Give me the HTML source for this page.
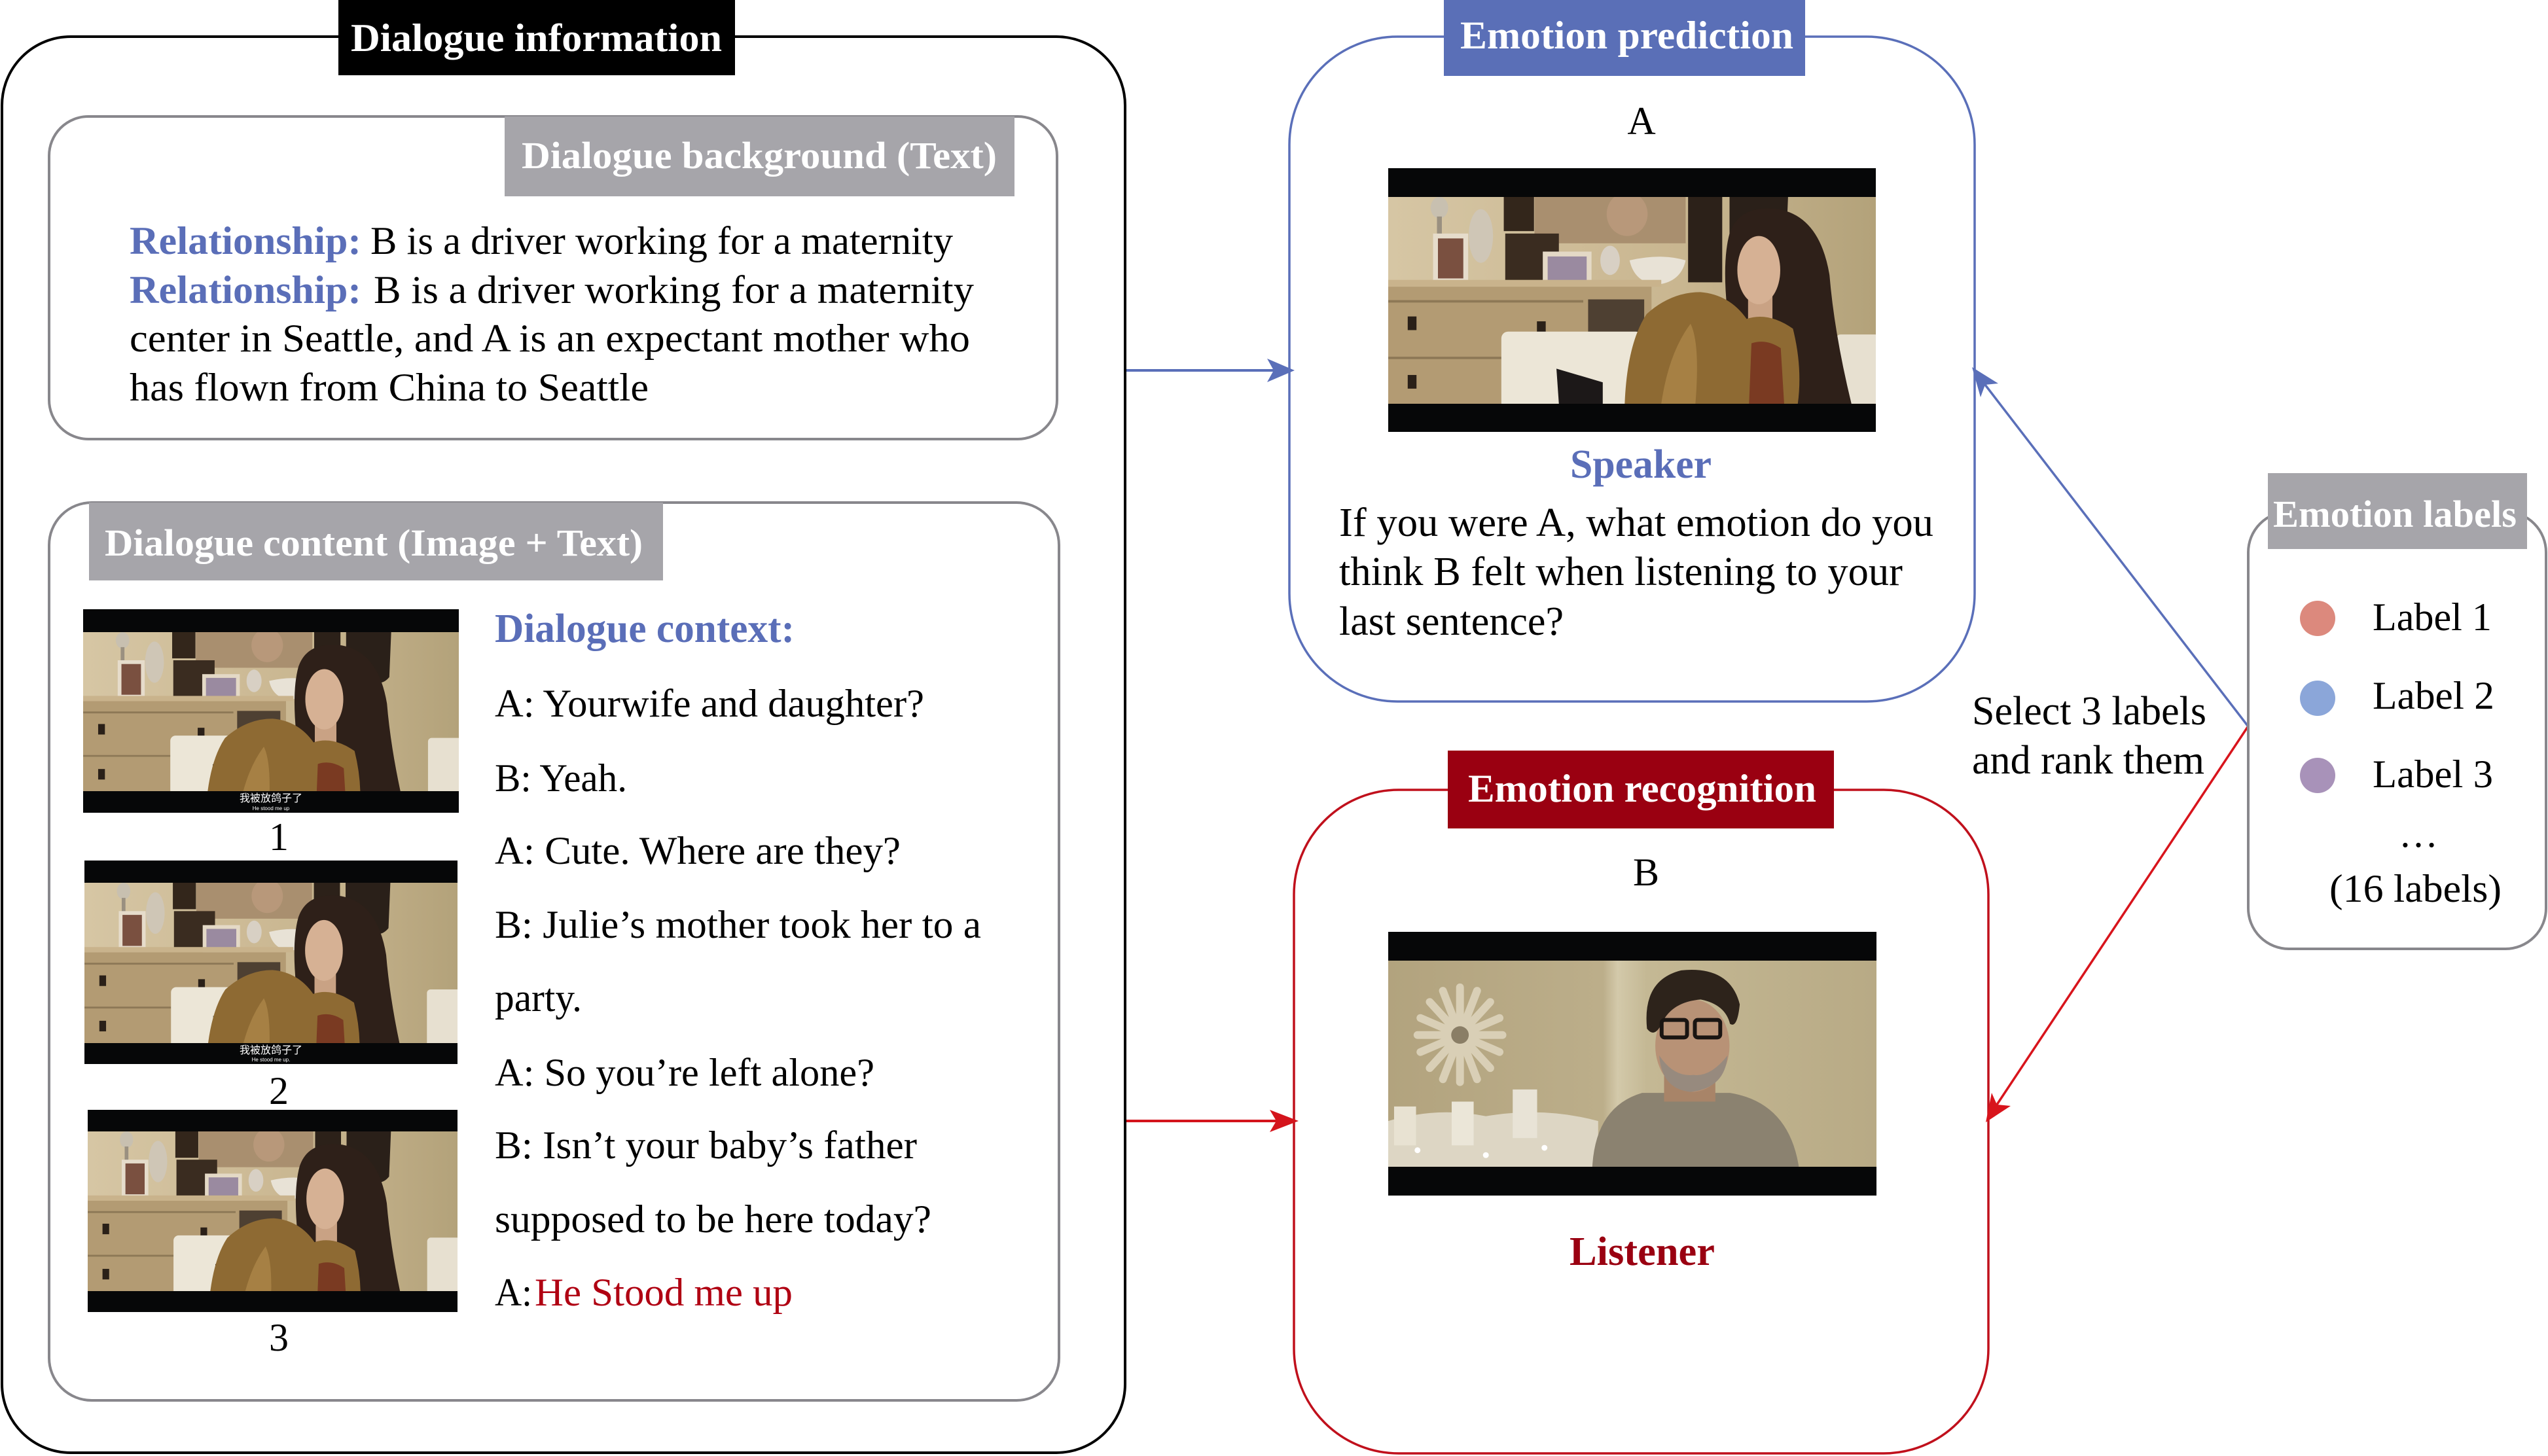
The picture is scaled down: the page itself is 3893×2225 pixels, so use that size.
<!DOCTYPE html>
<html><head><meta charset="utf-8">
<style>
html,body{margin:0;padding:0;background:#fff;}
svg{display:block;}
text{font-family:"Liberation Serif","Noto Serif CJK SC",serif;}
.cjk{font-family:"Liberation Sans","Noto Sans CJK SC",sans-serif;}
</style></head><body>
<svg width="3893" height="2225" viewBox="0 0 3893 2225" xmlns="http://www.w3.org/2000/svg" xmlns:xlink="http://www.w3.org/1999/xlink">
<defs>
 <linearGradient id="wallW" x1="0" y1="0" x2="1" y2="0">
  <stop offset="0" stop-color="#d6c6a4"/><stop offset="0.6" stop-color="#c9b690"/><stop offset="1" stop-color="#b3a27a"/>
 </linearGradient>
 <linearGradient id="wallM" x1="0" y1="0" x2="1" y2="0">
  <stop offset="0" stop-color="#b2a37e"/><stop offset="0.44" stop-color="#bcae8a"/><stop offset="0.47" stop-color="#d3c9aa"/><stop offset="0.53" stop-color="#c4b894"/><stop offset="1" stop-color="#b8aa85"/>
 </linearGradient>
 <g id="room">
  <rect x="0" y="0" width="1000" height="424" fill="url(#wallW)"/>
  <rect x="300" y="0" width="310" height="95" fill="#a98f6f"/>
  <ellipse cx="490" cy="35" rx="42" ry="45" fill="#b8987a"/>
  <rect x="237" y="0" width="62" height="70" fill="#33261b"/>
  <rect x="615" y="0" width="70" height="175" fill="#2c2119"/>
  <path d="M700 0 L820 0 L815 120 Q790 150 760 120 L700 80Z" fill="#2a2019"/>
  <ellipse cx="105" cy="22" rx="18" ry="22" fill="#c8c0b0"/>
  <rect x="100" y="40" width="10" height="45" fill="#9a9080"/>
  <ellipse cx="190" cy="80" rx="25" ry="55" fill="#cfc6b6"/>
  <rect x="92" y="75" width="72" height="105" fill="#e6dccb"/>
  <rect x="102" y="85" width="52" height="82" fill="#7a5040"/>
  <rect x="240" y="75" width="110" height="100" fill="#3a2c20"/>
  <rect x="317" y="112" width="100" height="72" fill="#e4d9c6"/>
  <rect x="327" y="122" width="80" height="52" fill="#9a8aa0"/>
  <ellipse cx="455" cy="130" rx="20" ry="30" fill="#d8d0c4"/>
  <path d="M495 130 Q560 115 610 130 Q600 175 550 180 Q505 175 495 130Z" fill="#e8e2d6"/>
  <rect x="0" y="170" width="560" height="14" fill="#c9b38c"/>
  <rect x="0" y="184" width="540" height="240" fill="#b39b73"/>
  <rect x="410" y="210" width="115" height="70" fill="#4e4032"/>
  <line x1="0" y1="214" x2="400" y2="214" stroke="#8d7856" stroke-width="5"/>
  <line x1="0" y1="330" x2="240" y2="330" stroke="#8d7856" stroke-width="5"/>
  <rect x="40" y="245" width="18" height="28" fill="#2a2018"/>
  <rect x="305" y="255" width="18" height="24" fill="#2a2018"/>
  <rect x="40" y="365" width="18" height="28" fill="#2a2018"/>
  <rect x="232" y="276" width="290" height="160" rx="14" fill="#ece6d7"/>
  <rect x="918" y="282" width="90" height="150" rx="10" fill="#e7e0d0"/>
  <path d="M345 352 L440 380 L440 424 L350 424Z" fill="#1c1818"/>
 </g>
 <g id="woman">
  <path d="M700 75 Q720 15 800 25 Q885 40 905 160 Q915 280 950 424 L690 424 Q700 330 695 230 Q685 130 700 75Z" fill="#2e2019"/>
  <rect x="738" y="190" width="50" height="70" fill="#c9a284"/>
  <ellipse cx="760" cy="150" rx="44" ry="70" fill="#d6b194"/>
  <path d="M485 424 Q490 300 530 240 Q580 195 640 195 Q700 200 735 250 Q780 235 830 270 Q850 350 840 424Z" fill="#8e6a33"/>
  <path d="M560 424 Q575 320 620 260 Q640 300 630 424Z" fill="#b08a4c" opacity="0.7"/>
  <path d="M745 300 Q775 290 805 310 L812 424 L740 424Z" fill="#7a3a22"/>
 </g>
 <g id="manScene">
  <rect x="0" y="0" width="1000" height="424" fill="url(#wallM)"/>
  <g stroke="#d9cfb6" stroke-width="16" stroke-linecap="round">
   <line x1="147" y1="153" x2="147" y2="55"/><line x1="147" y1="153" x2="147" y2="250"/>
   <line x1="147" y1="153" x2="60" y2="153"/><line x1="147" y1="153" x2="234" y2="153"/>
   <line x1="147" y1="153" x2="85" y2="85"/><line x1="147" y1="153" x2="209" y2="221"/>
   <line x1="147" y1="153" x2="209" y2="85"/><line x1="147" y1="153" x2="85" y2="221"/>
   <line x1="147" y1="153" x2="112" y2="62"/><line x1="147" y1="153" x2="182" y2="244"/>
   <line x1="147" y1="153" x2="182" y2="62"/><line x1="147" y1="153" x2="112" y2="244"/>
   <line x1="147" y1="153" x2="66" y2="118"/><line x1="147" y1="153" x2="228" y2="188"/>
   <line x1="147" y1="153" x2="228" y2="118"/><line x1="147" y1="153" x2="66" y2="188"/>
  </g>
  <circle cx="147" cy="153" r="18" fill="#8a7e66"/>
  <path d="M0 330 Q100 300 200 320 Q320 300 430 330 L430 424 L0 424Z" fill="#ddd6c4"/>
  <rect x="12" y="300" width="45" height="80" fill="#e8e2d2"/>
  <rect x="130" y="290" width="45" height="90" fill="#ebe6d8"/>
  <rect x="255" y="265" width="50" height="100" fill="#e8e3d6"/>
  <circle cx="60" cy="390" r="6" fill="#fff"/><circle cx="200" cy="400" r="6" fill="#fff"/><circle cx="320" cy="385" r="6" fill="#fff"/>
  <path d="M418 424 Q425 300 520 272 L700 272 Q820 292 841 424Z" fill="#8b8270"/>
  <rect x="565" y="220" width="105" height="70" fill="#a88468"/>
  <ellipse cx="623" cy="175" rx="76" ry="95" fill="#b89276"/>
  <path d="M555 195 Q560 265 620 270 Q690 262 695 195 Q660 240 625 235 Q585 240 555 195Z" fill="#978a7e"/>
  <path d="M530 140 Q520 40 600 20 Q700 10 720 90 Q715 140 700 130 Q690 90 640 80 Q580 85 560 130 Q545 160 530 140Z" fill="#2d231b"/>
  <rect x="560" y="122" width="52" height="36" rx="6" fill="none" stroke="#1a1512" stroke-width="8"/>
  <rect x="628" y="122" width="52" height="36" rx="6" fill="none" stroke="#1a1512" stroke-width="8"/>
 </g>
</defs>

<!-- ===== Dialogue information outer box ===== -->
<rect x="3" y="56" width="1716" height="2164" rx="105" ry="105" fill="none" stroke="#000" stroke-width="4"/>
<rect x="517" y="0" width="606" height="115" fill="#000"/>
<text x="536" y="78" font-size="60" font-weight="bold" fill="#fff" textLength="567" lengthAdjust="spacingAndGlyphs">Dialogue information</text>

<!-- Dialogue background box -->
<rect x="75" y="178" width="1540" height="493" rx="60" ry="60" fill="none" stroke="#88878c" stroke-width="4"/>
<rect x="771" y="178" width="779" height="122" fill="#a6a5aa"/>
<text x="797" y="257" font-size="58" font-weight="bold" fill="#fff" textLength="726" lengthAdjust="spacingAndGlyphs">Dialogue background (Text)</text>

<text x="198" y="388" font-size="60" font-weight="bold" fill="#5a6eb8" textLength="354" lengthAdjust="spacingAndGlyphs">Relationship:</text>
<text x="566" y="388" font-size="60" fill="#000" textLength="890" lengthAdjust="spacingAndGlyphs">B is  a driver working  for a maternity</text>
<text x="198" y="463" font-size="60" font-weight="bold" fill="#5a6eb8" textLength="354" lengthAdjust="spacingAndGlyphs">Relationship:</text>
<text x="571" y="463" font-size="60" fill="#000" textLength="917" lengthAdjust="spacingAndGlyphs">B is a driver working for a maternity</text>
<text x="198" y="537" font-size="60" fill="#000" textLength="1284" lengthAdjust="spacingAndGlyphs">center in Seattle, and A is an expectant mother who</text>
<text x="198" y="612" font-size="60" fill="#000" textLength="793" lengthAdjust="spacingAndGlyphs">has flown from China to Seattle</text>

<!-- Dialogue content box -->
<rect x="75" y="768" width="1543" height="1372" rx="65" ry="65" fill="none" stroke="#88878c" stroke-width="4"/>
<rect x="136" y="768" width="877" height="119" fill="#a6a5aa"/>
<text x="160" y="849" font-size="58" font-weight="bold" fill="#fff" textLength="822" lengthAdjust="spacingAndGlyphs">Dialogue content (Image + Text)</text>

<!-- thumbnails -->
<rect x="127" y="931" width="574" height="311" fill="#060708"/>
<svg x="127" y="966" width="574" height="243" viewBox="0 0 1000 424" preserveAspectRatio="none">
 <use xlink:href="#room"/>
 <use xlink:href="#woman" transform="translate(642,179) scale(1.15) translate(-760,-150)"/>
</svg>
<text class="cjk" x="414" y="1225" font-size="16" fill="#fff" text-anchor="middle">我被放鸽子了</text>
<text class="cjk" x="414" y="1238" font-size="8" fill="#fff" text-anchor="middle">He stood me up</text>
<text x="426" y="1299" font-size="60" fill="#000" text-anchor="middle">1</text>

<rect x="129" y="1315" width="570" height="311" fill="#060708"/>
<svg x="129" y="1349" width="570" height="245" viewBox="0 0 1000 424" preserveAspectRatio="none">
 <use xlink:href="#room"/>
 <use xlink:href="#woman" transform="translate(642,179) scale(1.15) translate(-760,-150)"/>
</svg>
<text class="cjk" x="414" y="1610" font-size="16" fill="#fff" text-anchor="middle">我被放鸽子了</text>
<text class="cjk" x="414" y="1622" font-size="8" fill="#fff" text-anchor="middle">He stood me up.</text>
<text x="426" y="1687" font-size="60" fill="#000" text-anchor="middle">2</text>

<rect x="134" y="1696" width="565" height="309" fill="#060708"/>
<svg x="134" y="1729" width="565" height="244" viewBox="0 0 1000 424" preserveAspectRatio="none">
 <use xlink:href="#room"/>
 <use xlink:href="#woman" transform="translate(642,179) scale(1.15) translate(-760,-150)"/>
</svg>
<text x="426" y="2064" font-size="60" fill="#000" text-anchor="middle">3</text>

<!-- dialogue context -->
<text x="756" y="981" font-size="62" font-weight="bold" fill="#5a6eb8" textLength="458" lengthAdjust="spacingAndGlyphs">Dialogue context:</text>
<text x="756" y="1095" font-size="60" fill="#000" textLength="656" lengthAdjust="spacingAndGlyphs">A: Yourwife  and daughter?</text>
<text x="756" y="1209" font-size="60" fill="#000" textLength="202" lengthAdjust="spacingAndGlyphs">B: Yeah.</text>
<text x="756" y="1320" font-size="60" fill="#000" textLength="620" lengthAdjust="spacingAndGlyphs">A: Cute.  Where are  they?</text>
<text x="756" y="1433" font-size="60" fill="#000" textLength="743" lengthAdjust="spacingAndGlyphs">B: Julie’s  mother took her to a</text>
<text x="756" y="1545" font-size="60" fill="#000" textLength="133" lengthAdjust="spacingAndGlyphs">party.</text>
<text x="756" y="1659" font-size="60" fill="#000" textLength="580" lengthAdjust="spacingAndGlyphs">A: So you’re left alone?</text>
<text x="756" y="1770" font-size="60" fill="#000" textLength="645" lengthAdjust="spacingAndGlyphs">B: Isn’t your baby’s father</text>
<text x="756" y="1883" font-size="60" fill="#000" textLength="667" lengthAdjust="spacingAndGlyphs">supposed to be here today?</text>
<text x="756" y="1995" font-size="60" fill="#000" textLength="57" lengthAdjust="spacingAndGlyphs">A:</text>
<text x="817" y="1995" font-size="60" fill="#b00012" textLength="394" lengthAdjust="spacingAndGlyphs">He Stood me up</text>

<!-- ===== Emotion prediction ===== -->
<rect x="1970" y="56" width="1047" height="1016" rx="165" ry="165" fill="none" stroke="#5a6fb9" stroke-width="3.5"/>
<rect x="2206" y="0" width="552" height="116" fill="#5a6fb7"/>
<text x="2231" y="74" font-size="60" font-weight="bold" fill="#fff" textLength="509" lengthAdjust="spacingAndGlyphs">Emotion prediction</text>
<text x="2508" y="205" font-size="60" fill="#000" text-anchor="middle">A</text>
<rect x="2121" y="257" width="745" height="403" fill="#060708"/>
<svg x="2121" y="301" width="745" height="316" viewBox="0 0 1000 424" preserveAspectRatio="none">
 <use xlink:href="#room"/>
 <use xlink:href="#woman"/>
</svg>
<text x="2399" y="730" font-size="62" font-weight="bold" fill="#5a6eb8" textLength="216" lengthAdjust="spacingAndGlyphs">Speaker</text>
<text x="2046" y="819" font-size="62" fill="#000" textLength="908" lengthAdjust="spacingAndGlyphs">If you were A, what emotion do you</text>
<text x="2046" y="894" font-size="62" fill="#000" textLength="861" lengthAdjust="spacingAndGlyphs">think B felt when listening to your</text>
<text x="2046" y="970" font-size="62" fill="#000" textLength="343" lengthAdjust="spacingAndGlyphs">last sentence?</text>

<!-- ===== Emotion recognition ===== -->
<rect x="1977" y="1207" width="1061" height="1014" rx="160" ry="160" fill="none" stroke="#c0101c" stroke-width="3.5"/>
<rect x="2212" y="1147" width="590" height="119" fill="#9a0011"/>
<text x="2243" y="1225" font-size="60" font-weight="bold" fill="#fff" textLength="532" lengthAdjust="spacingAndGlyphs">Emotion recognition</text>
<text x="2515" y="1353" font-size="60" fill="#000" text-anchor="middle">B</text>
<rect x="2121" y="1424" width="746" height="403" fill="#060708"/>
<svg x="2121" y="1468" width="746" height="315" viewBox="0 0 1000 424" preserveAspectRatio="none">
 <use xlink:href="#manScene"/>
</svg>
<text x="2398" y="1933" font-size="62" font-weight="bold" fill="#9a0011" textLength="222" lengthAdjust="spacingAndGlyphs">Listener</text>

<!-- ===== Arrows ===== -->
<line x1="1721" y1="566" x2="1950" y2="566" stroke="#5a6fb9" stroke-width="4"/>
<polygon points="1978,566 1936,548 1946,566 1936,584" fill="#5a6fb9"/>
<line x1="1721" y1="1713" x2="1955" y2="1713" stroke="#d4141c" stroke-width="4"/>
<polygon points="1984,1713 1940,1696 1950,1713 1940,1730" fill="#d4141c"/>

<line x1="3434" y1="1109" x2="3033" y2="588" stroke="#5a6fb9" stroke-width="3.5"/>
<polygon points="3013,561 3053,586 3033,588 3026,607" fill="#5a6fb9"/>
<line x1="3434" y1="1111" x2="3051" y2="1688" stroke="#d8141c" stroke-width="3.5"/>
<polygon points="3034,1715 3043,1670 3051,1688 3072,1690" fill="#d8141c"/>

<text x="3013" y="1107" font-size="62" fill="#000" textLength="358" lengthAdjust="spacingAndGlyphs">Select 3 labels</text>
<text x="3013" y="1182" font-size="62" fill="#000" textLength="355" lengthAdjust="spacingAndGlyphs">and rank them</text>

<!-- ===== Emotion labels ===== -->
<rect x="3435" y="782" width="455" height="668" rx="62" ry="62" fill="none" stroke="#88878c" stroke-width="4"/>
<rect x="3465" y="723" width="396" height="116" fill="#a6a5aa"/>
<text x="3473" y="805" font-size="58" font-weight="bold" fill="#fff" textLength="372" lengthAdjust="spacingAndGlyphs">Emotion labels</text>
<circle cx="3541" cy="945" r="27" fill="#dc897d"/>
<circle cx="3541" cy="1067" r="27" fill="#8ba6d9"/>
<circle cx="3541" cy="1185" r="27" fill="#a892b9"/>
<text x="3625" y="963" font-size="60" fill="#000" textLength="182" lengthAdjust="spacingAndGlyphs">Label 1</text>
<text x="3625" y="1083" font-size="60" fill="#000" textLength="186" lengthAdjust="spacingAndGlyphs">Label 2</text>
<text x="3625" y="1203" font-size="60" fill="#000" textLength="184" lengthAdjust="spacingAndGlyphs">Label 3</text>
<text x="3695" y="1294" font-size="60" fill="#000" text-anchor="middle">…</text>
<text x="3559" y="1378" font-size="60" fill="#000" textLength="263" lengthAdjust="spacingAndGlyphs">(16 labels)</text>
</svg>
</body></html>
